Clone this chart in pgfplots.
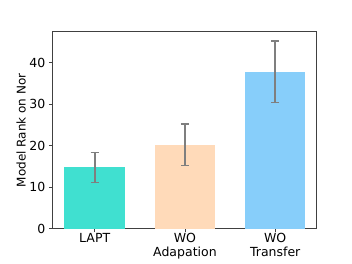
\documentclass[border=0pt]{standalone}
\usepackage{pgfplots}
\pgfplotsset{compat=1.18}
\usepackage{fontspec}
\setmainfont{DejaVu Sans}
\definecolor{c1}{HTML}{40E0D0}
\definecolor{c2}{HTML}{FFDAB9}
\definecolor{c3}{HTML}{87CEFA}
\definecolor{eb}{HTML}{7F7F7F}
\begin{document}
\begin{tikzpicture}
\useasboundingbox (-52.3pt,-34.3pt) rectangle (299.7pt,228.7pt);
\begin{axis}[
  scale only axis,
  width=264.4pt, height=197pt,
  xmin=-0.47, xmax=2.46,
  ymin=0, ymax=47.5,
  xtick={0,1,2},
  xticklabels={LAPT, WO\\Adapation, WO\\Transfer},
  xticklabel style={align=center, font=\fontsize{12.5}{13.5}\selectfont, inner sep=1pt},
  ytick={0,10,20,30,40},
  yticklabel style={font=\fontsize{12.5}{13.5}\selectfont},
  /pgf/number format/assume math mode=true,
  ylabel={Model Rank on Nor},
  ylabel style={font=\fontsize{12}{13}\selectfont, at={(axis description cs:0,0.5)}, anchor=south, yshift=23pt},
  axis line style={black!75, line width=0.8pt},
  tick style={black!75, line width=0.8pt},
  tick align=outside,
  major tick length=3.5pt,
  xtick pos=bottom, ytick pos=left,
  bar width=0.67,
  error bars/error bar style={line width=1.8pt, eb},
  error bars/error mark options={rotate=90, mark size=4pt, line width=1.5pt, eb},
]
\addplot[ybar, bar shift=0pt, draw=none, fill=c1,
  error bars/.cd, y dir=both, y explicit]
  coordinates {(0,14.8) +- (0,3.6)};
\addplot[ybar, bar shift=0pt, draw=none, fill=c2,
  error bars/.cd, y dir=both, y explicit]
  coordinates {(1,20.3) +- (0,5.0)};
\addplot[ybar, bar shift=0pt, draw=none, fill=c3,
  error bars/.cd, y dir=both, y explicit]
  coordinates {(2,37.8) +- (0,7.4)};
\end{axis}
\end{tikzpicture}
\end{document}
